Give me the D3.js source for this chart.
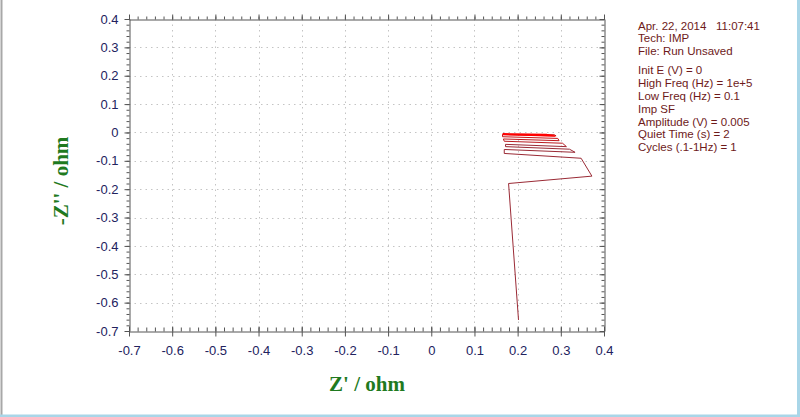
<!DOCTYPE html>
<html><head><meta charset="utf-8">
<script src="https://cdn.jsdelivr.net/npm/d3@7"></script>
<style>html,body{margin:0;padding:0;background:#fff;overflow:hidden}</style>
</head><body>
<svg id="c" width="800" height="417"></svg>
<script>
// ---- data ----
const xTicks = [-0.7,-0.6,-0.5,-0.4,-0.3,-0.2,-0.1,0,0.1,0.2,0.3,0.4];
const yTicks = [0.4,0.3,0.2,0.1,0,-0.1,-0.2,-0.3,-0.4,-0.5,-0.6,-0.7];
// main trace: Z' and -Z'' (ohm)
const mainReal = [0.202,0.179,0.372,0.347,0.169,0.169,0.333,0.320,0.172,0.172,0.313,0.304,0.169,0.167,0.296,0.293,0.165,0.165,0.289,0.285,0.165];
const mainImag = [-0.661,-0.180,-0.154,-0.091,-0.074,-0.060,-0.070,-0.059,-0.050,-0.042,-0.050,-0.038,-0.031,-0.023,-0.029,-0.021,-0.015,-0.008,-0.012,-0.008,-0.006];
// dense cluster near -Z'' = 0
const clusterReal = [0.165,0.287,0.165,0.283,0.166,0.280,0.167,0.276,0.168,0.272,0.166,0.268];
const clusterImag = [-0.006,-0.013,-0.007,-0.011,-0.006,-0.010,-0.006,-0.009,-0.005,-0.008,-0.005,-0.007];
const infoLines = ["Apr. 22, 2014   11:07:41","Tech: IMP","File: Run Unsaved","","Init E (V) = 0","High Freq (Hz) = 1e+5","Low Freq (Hz) = 0.1","Imp SF","Amplitude (V) = 0.005","Quiet Time (s) = 2","Cycles (.1-1Hz) = 1"];
const xTitle = "Z' / ohm";
const yTitle = "-Z'' / ohm";

// ---- layout ----
const svg = d3.select("#c");
const L=129, R=604, T=19, B=331;
const x = d3.scaleLinear().domain([-0.7,0.4]).range([L,R]);
const y = d3.scaleLinear().domain([-0.7,0.4]).range([B,T]);
const axisCol = "#555", labCol = "#22225e";
const fmt = d => String(d);

// window borders
svg.append("line").attr("x1",1.5).attr("x2",1.5).attr("y1",0).attr("y2",417).attr("stroke","#a8a8a8").attr("stroke-width",2);
svg.append("rect").attr("x",797).attr("y",0).attr("width",3).attr("height",417).attr("fill","#a9d6e8");
svg.append("rect").attr("x",0).attr("y",414.5).attr("width",800).attr("height",2.5).attr("fill","#a9d6e8");

// grid
const g = svg.append("g");
g.selectAll(".gx").data(xTicks.slice(1,-1)).join("line")
  .attr("x1",d=>Math.round(x(d))+0.5).attr("x2",d=>Math.round(x(d))+0.5).attr("y1",T).attr("y2",B)
  .attr("stroke","#c4c4c4").attr("stroke-dasharray","1.5,4");
g.selectAll(".gy").data(yTicks.slice(1,-1)).join("line")
  .attr("y1",d=>Math.round(y(d))+0.5).attr("y2",d=>Math.round(y(d))+0.5).attr("x1",L).attr("x2",R)
  .attr("stroke","#c4c4c4").attr("stroke-dasharray","1.5,4");

// axes via d3 axis generators (minor + major)
const minorX = d3.range(-0.7,0.4001,0.02).map(v=>+v.toFixed(2));
const minorY = minorX;
function styleAxis(sel){ sel.selectAll("path").attr("stroke",axisCol); sel.selectAll("line").attr("stroke",axisCol); }
// bottom
const ab = svg.append("g").attr("transform",`translate(0,${B+0.5})`)
  .call(d3.axisBottom(x).tickValues(xTicks).tickSize(5).tickSizeOuter(0).tickPadding(9).tickFormat(fmt));
ab.selectAll("text").attr("fill",labCol).style("font","13px 'Liberation Sans', Arial, sans-serif");
styleAxis(ab);
svg.append("g").attr("transform",`translate(0,${B+0.5})`)
  .call(d3.axisTop(x).tickValues(minorX).tickSize(4).tickFormat("")).call(styleAxis).select(".domain").remove();
svg.append("g").attr("transform",`translate(0,${B+0.5})`)
  .call(d3.axisTop(x).tickValues(xTicks).tickSize(5).tickFormat("")).call(styleAxis).select(".domain").remove();
// top
svg.append("g").attr("transform",`translate(0,${T+0.5})`)
  .call(d3.axisTop(x).tickValues(minorX).tickSize(3).tickSizeOuter(0).tickFormat("")).call(styleAxis);
svg.append("g").attr("transform",`translate(0,${T+0.5})`)
  .call(d3.axisTop(x).tickValues(xTicks).tickSize(5).tickFormat("")).call(styleAxis).select(".domain").remove();
// left
const al = svg.append("g").attr("transform",`translate(${L+0.5},0)`)
  .call(d3.axisLeft(y).tickValues(yTicks).tickSize(5).tickSizeOuter(0).tickPadding(6).tickFormat(fmt));
al.selectAll("text").attr("fill",labCol).style("font","13px 'Liberation Sans', Arial, sans-serif");
styleAxis(al);
svg.append("g").attr("transform",`translate(${L+0.5},0)`)
  .call(d3.axisLeft(y).tickValues(minorY).tickSize(3).tickFormat("")).call(styleAxis).select(".domain").remove();
// right
svg.append("g").attr("transform",`translate(${R+0.5},0)`)
  .call(d3.axisLeft(y).tickValues(minorY).tickSize(3).tickSizeOuter(0).tickFormat("")).call(styleAxis);
svg.append("g").attr("transform",`translate(${R+0.5},0)`)
  .call(d3.axisLeft(y).tickValues(yTicks).tickSize(5).tickFormat("")).call(styleAxis).select(".domain").remove();

// data lines
const lineGen = d3.line().x(d=>x(d[0])).y(d=>y(d[1]));
const mainPts = mainReal.map((v,i)=>[v,mainImag[i]]);
const col = d3.scaleLinear().domain([0,mainPts.length-2]).range(["#9a2a35","#d01010"]);
for(let i=0;i<mainPts.length-1;i++){
  svg.append("path").attr("d",lineGen([mainPts[i],mainPts[i+1]])).attr("fill","none")
    .attr("stroke",i<10?"#9a2a35":col(i)).attr("stroke-width",1);
}
const clPts = clusterReal.map((v,i)=>[v,clusterImag[i]]);
svg.append("path").attr("d",lineGen(clPts)).attr("fill","none").attr("stroke","#ff0000").attr("stroke-width",1.2);

// titles
svg.append("text").attr("x",367).attr("y",391).attr("text-anchor","middle")
  .attr("fill","#1f7a1f").style("font","bold 21px 'Liberation Serif', 'Times New Roman', serif").text(xTitle);
svg.append("text").attr("transform","translate(68,181) rotate(-90)").attr("text-anchor","middle")
  .attr("fill","#1f7a1f").style("font","bold 21px 'Liberation Serif', 'Times New Roman', serif").text(yTitle);

// info text
let yy = 29.5;
infoLines.forEach(s=>{
  if(s===""){ yy += 6.5; return; }
  svg.append("text").attr("x",638).attr("y",yy).attr("fill","#6e1a1a").attr("xml:space","preserve")
    .style("font","11.5px 'Liberation Sans', Arial, sans-serif").style("white-space","pre").text(s);
  yy += 12.8;
});
</script>
</body></html>
